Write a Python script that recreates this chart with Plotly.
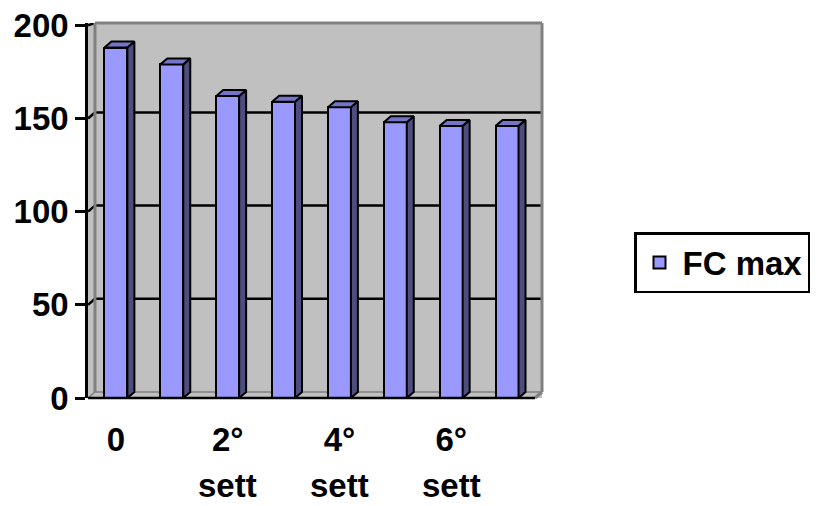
import plotly.graph_objects as go

# ---- data ----
categories = [0, 1, 2, 3, 4, 5, 6, 7]
fc_max = [188, 179, 162, 159, 156, 148, 146, 146]
tick_top = ["0", "", "2°", "", "4°", "", "6°", ""]
tick_bottom = ["", "", "sett", "", "sett", "", "sett", ""]
y_ticks = [0, 50, 100, 150, 200]
series_name = "FC max"

# ---- style / geometry ----
FRONT = "#9999ff"
SIDE = "#4d4d80"
TOP = "#7474c8"
WALL = "#c0c0c0"
EDGE = "#808080"
FONT = dict(family="Arial, Liberation Sans, sans-serif", size=33, color="black", weight="bold")

W, H = 822, 506
ml, mr, mt, mb = 88, 280, 23, 108
plot_w = W - ml - mr
plot_h = H - mt - mb
dx = 0.125           # depth offset in x units (~7px)
x_min, x_max = -0.5, 7.5 + dx
y_max = 201.2
px_per_y = plot_h / y_max
dy = 6 / px_per_y    # depth offset in y units (~6px)
bw = 0.41

def xp(v):
    return (v - x_min) / (x_max - x_min)

fig = go.Figure()

# front faces
fig.add_trace(go.Bar(
    x=categories, y=fc_max, width=bw, name=series_name,
    marker=dict(color=FRONT, line=dict(color="black", width=2)),
    showlegend=True,
))

# side faces and top faces built from the values
sx, sy, tx, ty = [], [], [], []
for c, v in zip(categories, fc_max):
    xl, xr = c - bw / 2, c + bw / 2
    sx += [xr, xr + dx, xr + dx, xr, xr, None]
    sy += [0, dy, v + dy, v, 0, None]
    tx += [xl, xl + dx, xr + dx, xr, xl, None]
    ty += [v, v + dy, v + dy, v, v, None]
fig.add_trace(go.Scatter(x=sx, y=sy, mode="lines", fill="toself", fillcolor=SIDE,
                         line=dict(color="black", width=2), showlegend=False, hoverinfo="skip"))
fig.add_trace(go.Scatter(x=tx, y=ty, mode="lines", fill="toself", fillcolor=TOP,
                         line=dict(color="black", width=2), showlegend=False, hoverinfo="skip"))

shapes = []
# back-wall gridlines + slanted connectors
for v in y_ticks[1:]:
    if v + dy < y_max:
        shapes.append(dict(type="line", xref="x", yref="y", x0=-0.5 + dx, x1=7.5 + dx,
                           y0=v + dy, y1=v + dy, line=dict(color="black", width=2.5), layer="below"))
    shapes.append(dict(type="line", xref="x", yref="y", x0=-0.5, x1=-0.5 + dx,
                       y0=v, y1=min(v + dy, y_max), line=dict(color="black", width=2.5), layer="below"))
# left wall edge
shapes.append(dict(type="line", xref="x", yref="y", x0=-0.5 + dx, x1=-0.5 + dx, y0=dy, y1=y_max,
                   line=dict(color=EDGE, width=3), layer="below"))
# floor edges
shapes.append(dict(type="line", xref="x", yref="y", x0=-0.5 + dx, x1=7.5 + dx, y0=dy, y1=dy,
                   line=dict(color=EDGE, width=1.5), layer="below"))
shapes.append(dict(type="line", xref="x", yref="y", x0=-0.5, x1=-0.5 + dx, y0=0, y1=dy,
                   line=dict(color=EDGE, width=1.5), layer="below"))
# top and right wall borders
shapes.append(dict(type="line", xref="paper", yref="paper", x0=xp(-0.5 + dx), x1=1, y0=1, y1=1,
                   line=dict(color=EDGE, width=3)))
shapes.append(dict(type="line", xref="paper", yref="paper", x0=1, x1=1, y0=dy / y_max, y1=1,
                   line=dict(color=EDGE, width=3)))
shapes.append(dict(type="line", xref="paper", yref="paper", x0=xp(7.5), x1=1, y0=0, y1=dy / y_max,
                   line=dict(color=EDGE, width=3)))
# front x-axis line
shapes.append(dict(type="line", xref="paper", yref="paper", x0=0, x1=xp(7.5), y0=0, y1=0,
                   line=dict(color="black", width=2.5)))

annotations = []
for c, t in zip(categories, tick_bottom):
    if t:
        annotations.append(dict(x=c, y=(H - mb - 505) / plot_h, xref="x", yref="paper", text=t,
                                showarrow=False, font=FONT, xanchor="center", yanchor="bottom",
                                borderpad=0))

fig.update_layout(
    width=W, height=H,
    margin=dict(l=ml, r=mr, t=mt, b=mb, autoexpand=False),
    paper_bgcolor="white", plot_bgcolor=WALL,
    shapes=shapes, annotations=annotations,
    bargap=0,
    xaxis=dict(range=[x_min, x_max], tickvals=categories, ticktext=tick_top, ticks="",
               showgrid=False, zeroline=False, showline=False, tickfont=FONT,
               ticklabelstandoff=19, fixedrange=True),
    xaxis2=dict(range=[x_min, x_max], overlaying="x", anchor="y", side="bottom",
                tickvals=[c - 0.5 for c in categories] + [categories[-1] + 0.5],
                ticks="outside", ticklen=10, tickwidth=2.5, tickcolor="black",
                showticklabels=False, showgrid=False, zeroline=False, showline=False),
    yaxis=dict(range=[0, y_max], tickvals=y_ticks, ticks="outside", ticklen=10, tickwidth=2.5,
               tickcolor="black", showline=True, linecolor="black", linewidth=2.5,
               showgrid=False, zeroline=False, tickfont=FONT),
    legend=dict(x=(634 - ml) / plot_w, y=(H - mb - 232) / plot_h, xanchor="left", yanchor="top",
                bordercolor="black", borderwidth=2.5, bgcolor="white", font=FONT,
                itemwidth=36),
)

fig.write_html("out.html")
